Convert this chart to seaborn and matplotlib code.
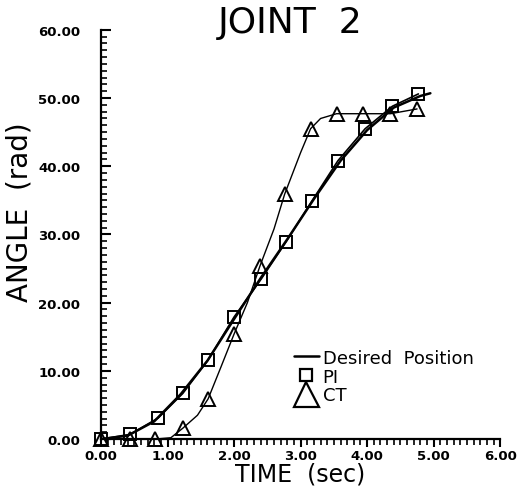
import matplotlib
matplotlib.use("Agg")
import matplotlib.pyplot as plt
from matplotlib.lines import Line2D
from matplotlib.ticker import MultipleLocator, FormatStrFormatter
import seaborn as sns

# valores
desired_time = [0.0, 0.4, 0.8, 1.2, 1.6, 2.0, 2.4, 2.8, 3.2, 3.6, 4.0, 4.4, 4.8, 4.95]
desired_angle = [0.0, 0.5, 2.6, 6.6, 11.5, 17.6, 23.6, 29.3, 35.2, 40.8, 45.3, 48.6, 50.3, 50.7]

pi_time = [0.0, 0.44, 0.86, 1.23, 1.61, 2.0, 2.41, 2.78, 3.17, 3.56, 3.97, 4.38, 4.77]
pi_angle = [0.0, 0.7, 3.1, 6.7, 11.6, 17.9, 23.5, 28.9, 34.9, 40.8, 45.5, 48.8, 50.6]

ct_time = [0.0, 0.44, 0.81, 1.23, 1.61, 2.0, 2.39, 2.76, 3.15, 3.54, 3.94, 4.35, 4.75]
ct_angle = [0.0, 0.0, 0.0, 1.6, 5.9, 15.4, 25.4, 35.9, 45.5, 47.7, 47.7, 47.7, 48.4]

# trazo continuo del CT (puntos extra)
ct_curve_time = [0.0, 0.44, 0.81, 1.05, 1.23, 1.45, 1.61, 1.8, 2.0, 2.2, 2.39, 2.6,
                 2.76, 3.0, 3.15, 3.3, 3.54, 3.94, 4.35, 4.75]
ct_curve_angle = [0.0, 0.0, 0.0, 0.2, 1.6, 3.5, 5.9, 10.5, 15.4, 20.0, 25.4, 30.8,
                  35.9, 42.0, 45.5, 47.0, 47.7, 47.7, 47.7, 48.4]

sns.set_style("ticks")
plt.rcParams["font.family"] = ["DejaVu Sans"]
for key in ["text.color", "axes.labelcolor", "xtick.color", "ytick.color", "axes.edgecolor"]:
    plt.rcParams[key] = "black"

fig = plt.figure(figsize=(5.26, 4.89), dpi=100)
ax = fig.add_axes([0.192, 0.100, 0.759, 0.837])

sns.lineplot(x=desired_time, y=desired_angle, color="black", linewidth=1.8, ax=ax,
             sort=False)
sns.lineplot(x=ct_curve_time, y=ct_curve_angle, color="black", linewidth=1.0, ax=ax,
             sort=False)
sns.lineplot(x=pi_time, y=pi_angle, color="black", linewidth=1.2, ax=ax, sort=False,
             marker="s", markersize=8.5, markerfacecolor="none",
             markeredgecolor="black", markeredgewidth=1.4, clip_on=False)
sns.lineplot(x=ct_time, y=ct_angle, color="black", linewidth=0, ax=ax, sort=False,
             marker="^", markersize=10, markerfacecolor="none",
             markeredgecolor="black", markeredgewidth=1.4, clip_on=False)

ax.set_xlim(0, 6)
ax.set_ylim(0, 60)
sns.despine(ax=ax)
ax.spines["left"].set_linewidth(1.6)
ax.spines["bottom"].set_linewidth(1.6)

ax.xaxis.set_major_locator(MultipleLocator(1))
ax.xaxis.set_minor_locator(MultipleLocator(0.1))
ax.yaxis.set_major_locator(MultipleLocator(10))
ax.yaxis.set_minor_locator(MultipleLocator(1))
ax.xaxis.set_major_formatter(FormatStrFormatter("%.2f"))
ax.yaxis.set_major_formatter(FormatStrFormatter("%.2f"))

ax.tick_params(axis="y", which="major", direction="in", length=7, width=1.5,
               labelsize=9.5, pad=15)
ax.tick_params(axis="y", which="minor", direction="in", length=4, width=1.2)
ax.tick_params(axis="x", which="major", direction="out", length=6, width=1.5,
               labelsize=9.5, pad=1)
ax.tick_params(axis="x", which="minor", direction="out", length=4, width=1.2)
for lab in ax.get_xticklabels() + ax.get_yticklabels():
    lab.set_fontweight("bold")

ax.set_xlabel("TIME  (sec)", fontsize=17, labelpad=0)
ax.set_ylabel("ANGLE  (rad)", fontsize=20)
ax.yaxis.set_label_coords(-0.168, 0.557)
fig.text(0.551, 0.953, "JOINT  2", fontsize=26, ha="center", va="center")

handles = [
    Line2D([], [], color="black", linewidth=1.8),
    Line2D([], [], linestyle="none", marker="s", markersize=9, markerfacecolor="none",
           markeredgecolor="black", markeredgewidth=1.6),
    Line2D([], [], linestyle="none", marker="^", markersize=18, markerfacecolor="none",
           markeredgecolor="black", markeredgewidth=1.6),
]
ax.legend(handles, ["Desired  Position", "PI", "CT"], loc="upper left",
          bbox_to_anchor=(0.46, 0.243), frameon=False, handlelength=1.4,
          handletextpad=0.2, labelspacing=0.05, borderpad=0,
          prop={"size": 13})

fig.savefig("out.png", dpi=100)
